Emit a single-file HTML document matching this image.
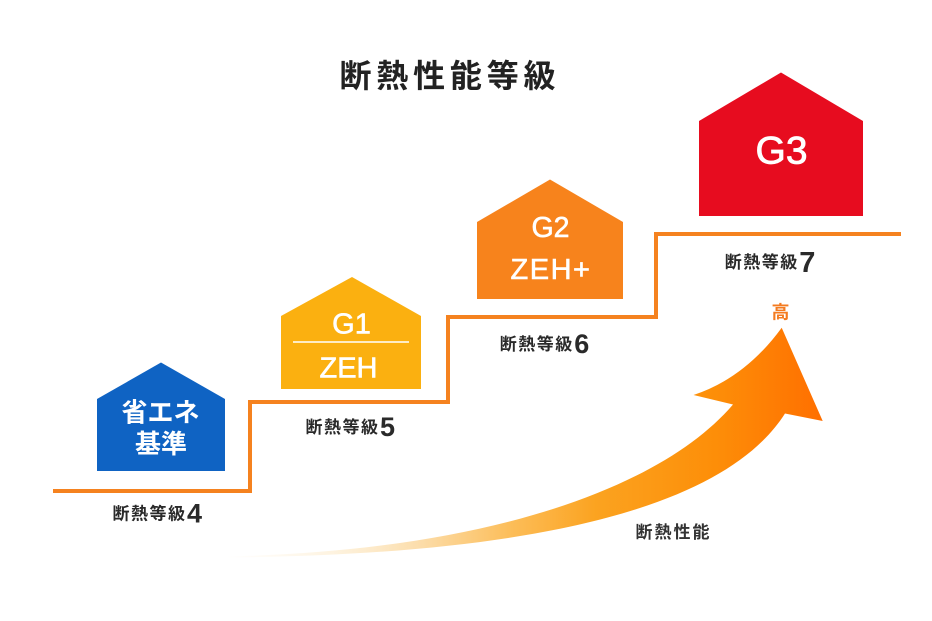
<!DOCTYPE html>
<html>
<head>
<meta charset="utf-8">
<style>
  html,body{margin:0;padding:0;background:#fff;}
  svg{display:block;}
  .jp{font-family:"Liberation Sans","Noto Sans CJK JP",sans-serif;}
  .lat{font-family:"Liberation Sans",sans-serif;}
</style>
</head>
<body>
<svg width="932" height="621" viewBox="0 0 932 621" xmlns="http://www.w3.org/2000/svg">
  <defs>
    <linearGradient id="ag" gradientUnits="userSpaceOnUse" x1="225" y1="0" x2="823" y2="0">
      <stop offset="0" stop-color="#fff4e2" stop-opacity="0"/>
      <stop offset="0.18" stop-color="#fdf0d8" stop-opacity="0.8"/>
      <stop offset="0.33" stop-color="#fcdca8"/>
      <stop offset="0.48" stop-color="#fcbd58"/>
      <stop offset="0.62" stop-color="#fba320"/>
      <stop offset="0.82" stop-color="#fd8e08"/>
      <stop offset="1" stop-color="#ff6f00"/>
    </linearGradient>
  </defs>

  <rect width="932" height="621" fill="#ffffff"/>

  <!-- Title -->
  <text class="jp" font-size="32" font-weight="700" fill="#222" text-anchor="middle"
        x="355.5 392.3 429.1 465.9 502.7 539.5" y="87">断熱性能等級</text>

  <!-- Staircase -->
  <polyline points="53,491 250,491 250,402 448,402 448,317 656,317 656,234 901,234"
            fill="none" stroke="#f5821f" stroke-width="4" stroke-linejoin="miter"/>

  <!-- Blue house -->
  <polygon points="97,399 161,362.5 225,399 225,471 97,471" fill="#0f63c3"/>
  <text class="jp" font-size="26" font-weight="700" fill="#fff" text-anchor="middle" x="160.5" y="421.5">省エネ</text>
  <text class="jp" font-size="26" font-weight="700" fill="#fff" text-anchor="middle" x="161" y="453">基準</text>

  <!-- Yellow house G1 -->
  <polygon points="281,316 352,277 421,316 421,389 281,389" fill="#fbb010"/>
  <text class="lat" font-size="29" fill="#fff" stroke="#fff" stroke-width="0.6" text-anchor="middle" x="351.5" y="333.3">G1</text>
  <line x1="293" y1="342" x2="409" y2="342" stroke="#fff" stroke-width="1.6"/>
  <text class="lat" font-size="29" fill="#fff" stroke="#fff" stroke-width="0.6" text-anchor="middle" x="348.5" y="377.3">ZEH</text>

  <!-- Orange house G2 -->
  <polygon points="477,222 550,179.5 623,222 623,299 477,299" fill="#f7831c"/>
  <text class="lat" font-size="28.5" fill="#fff" stroke="#fff" stroke-width="0.6" text-anchor="middle" x="550.5" y="237">G2</text>
  <text class="lat" font-size="29" fill="#fff" stroke="#fff" stroke-width="0.6" text-anchor="middle" letter-spacing="1.5" x="551" y="279">ZEH+</text>

  <!-- Red house G3 -->
  <polygon points="699,121 781,72.5 863,121 863,216 699,216" fill="#e70c1f"/>
  <text class="lat" font-size="39" fill="#fff" stroke="#fff" stroke-width="0.8" text-anchor="middle" x="781.5" y="163.5">G3</text>

  <!-- Level labels -->
  <g>
    <text class="jp" font-size="17" font-weight="700" fill="#2a2a2a" text-anchor="middle" x="121 139.5 158 176.5" y="519.5">断熱等級</text>
    <text class="lat" font-size="27" font-weight="700" fill="#2a2a2a" x="187" y="522.5">4</text>
  </g>
  <g transform="translate(193,-86.6)">
    <text class="jp" font-size="17" font-weight="700" fill="#2a2a2a" text-anchor="middle" x="121 139.5 158 176.5" y="519.5">断熱等級</text>
    <text class="lat" font-size="27" font-weight="700" fill="#2a2a2a" x="187" y="522.5">5</text>
  </g>
  <g transform="translate(387.3,-169.3)">
    <text class="jp" font-size="17" font-weight="700" fill="#2a2a2a" text-anchor="middle" x="121 139.5 158 176.5" y="519.5">断熱等級</text>
    <text class="lat" font-size="27" font-weight="700" fill="#2a2a2a" x="187" y="522.5">6</text>
  </g>
  <g transform="translate(612.3,-251.6)">
    <text class="jp" font-size="17" font-weight="700" fill="#2a2a2a" text-anchor="middle" x="121 139.5 158 176.5" y="519.5">断熱等級</text>
    <text class="lat" font-size="29" font-weight="700" fill="#2a2a2a" x="187" y="523.5">7</text>
  </g>

  <!-- Curved arrow -->
  <path d="M 223 556.5
           C 480 552, 660 490, 733 404.5
           L 693.5 395
           Q 745 378, 781.7 327.7
           L 822.7 421
           L 785 413.5
           C 730 500, 560 555, 223 557.5 Z"
        fill="url(#ag)"/>

  <!-- 高 -->
  <text class="jp" font-size="18" font-weight="700" fill="#f47b20" text-anchor="middle" x="780.5" y="318.5">高</text>

  <!-- 断熱性能 -->
  <text class="jp" font-size="17" font-weight="700" fill="#333" text-anchor="middle"
        x="644 663 682 701" y="538">断熱性能</text>
</svg>
</body>
</html>
